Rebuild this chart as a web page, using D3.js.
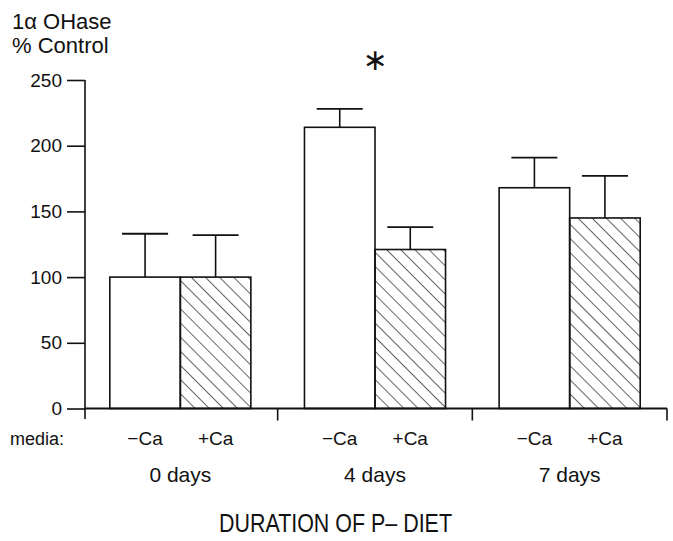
<!DOCTYPE html>
<html>
<head>
<meta charset="utf-8">
<script src="https://cdn.jsdelivr.net/npm/d3@7"></script>
<style>
  body { margin: 0; background: #fff; }
  text { font-family: "Liberation Sans", Arial, sans-serif; fill: #111; }
</style>
</head>
<body>
<div id="chart"></div>
<script>
// data
const days = ["0 days", "4 days", "7 days"];
const media = ["\u2212Ca", "+Ca"];
const means = [[100, 100], [214, 121], [168, 145]];
const errTops = [[133, 132], [228, 138], [191, 177]];
const yTicks = [0, 50, 100, 150, 200, 250];
const starGroup = "4 days";

const width = 673, height = 541;

const svg = d3.select("#chart").append("svg")
    .attr("width", width)
    .attr("height", height);

// hatch pattern for +Ca bars (lines running top-left to bottom-right)
let defs = svg.append("defs");
defs.append("pattern")
    .attr("id", "hatch")
    .attr("patternUnits", "userSpaceOnUse")
    .attr("width", 10)
    .attr("height", 10)
    .attr("patternTransform", "rotate(-45)")
    .append("line")
    .attr("x1", 0).attr("y1", 0)
    .attr("x2", 0).attr("y2", 10)
    .attr("stroke", "#111")
    .attr("stroke-width", 1.3);

// scales
const x0 = d3.scaleBand()
    .domain(days)
    .range([83, 667]);

const x1 = d3.scaleBand()
    .domain(media)
    .range([0, x0.bandwidth()])
    .paddingOuter(0.38);

const y = d3.scaleLinear()
    .domain([0, 250])
    .range([408.5, 80]);

// y axis
const yAxis = svg.append("g")
    .attr("transform", "translate(85,0)")
    .call(d3.axisLeft(y).tickValues(yTicks).tickSize(18).tickPadding(5));
yAxis.select(".domain").remove();
yAxis.selectAll(".tick line").attr("stroke", "#111").attr("stroke-width", 1.6);
yAxis.selectAll(".tick text")
    .style("font-size", "19px")
    .attr("font-family", "Liberation Sans, Arial, sans-serif")
    .attr("fill", "#111");
yAxis.append("line")
    .attr("x1", 0).attr("x2", 0)
    .attr("y1", y(250)).attr("y2", 419)
    .attr("stroke", "#111").attr("stroke-width", 1.6);

// bars
let groups = svg.selectAll(".grp")
    .data(days)
    .enter()
    .append("g")
    .attr("class", "grp")
    .attr("transform", d => "translate(" + x0(d) + ",0)");

groups.each(function(d, i) {
    let g = d3.select(this);
    media.forEach((m, j) => {
        let bx = x1(m);
        let cx = bx + x1.bandwidth() / 2;
        // error bar (upper only)
        g.append("line")
            .attr("x1", cx).attr("x2", cx)
            .attr("y1", y(means[i][j])).attr("y2", y(errTops[i][j]))
            .attr("stroke", "#111").attr("stroke-width", 1.6);
        g.append("line")
            .attr("x1", cx - 23).attr("x2", cx + 23)
            .attr("y1", y(errTops[i][j])).attr("y2", y(errTops[i][j]))
            .attr("stroke", "#111").attr("stroke-width", 1.8);
        g.append("rect")
            .attr("x", bx)
            .attr("y", y(means[i][j]))
            .attr("width", x1.bandwidth())
            .attr("height", y(0) - y(means[i][j]))
            .attr("fill", j === 0 ? "#fff" : "url(#hatch)")
            .attr("stroke", "#111")
            .attr("stroke-width", 1.6);
    });
});

// x axis
svg.append("line")
    .attr("x1", 85).attr("x2", 667)
    .attr("y1", y(0)).attr("y2", y(0))
    .attr("stroke", "#111").attr("stroke-width", 2);
svg.selectAll(".xtick")
    .data(days.slice(1).map(d => x0(d)).concat([x0.range()[1]]))
    .enter()
    .append("line")
    .attr("x1", d => d).attr("x2", d => d)
    .attr("y1", y(0)).attr("y2", y(0) + 12)
    .attr("stroke", "#111").attr("stroke-width", 1.6);

// media labels
svg.append("text")
    .attr("x", 10).attr("y", 445)
    .style("font-size", "18px")
    .text("media:");
groups.selectAll(".mlab")
    .data(media)
    .enter()
    .append("text")
    .attr("x", d => x1(d) + x1.bandwidth() / 2)
    .attr("y", 445)
    .attr("text-anchor", "middle")
    .style("font-size", "19px")
    .text(d => d);

groups.append("text")
    .attr("x", x0.bandwidth() / 2)
    .attr("y", 482)
    .attr("text-anchor", "middle")
    .style("font-size", "21px")
    .text(d => d);

// significance star
svg.append("text")
    .attr("x", x0(starGroup) + x0.bandwidth() / 2)
    .attr("y", 70)
    .attr("text-anchor", "middle")
    .style("font-family", "DejaVu Sans")
    .style("font-size", "30px")
    .text("\u2217");

// axis titles
svg.append("text")
    .attr("x", 12).attr("y", 29)
    .style("font-size", "22px")
    .text("1\u03b1 OHase");
svg.append("text")
    .attr("x", 12).attr("y", 53)
    .style("font-size", "22px")
    .text("% Control");

svg.append("text")
    .attr("x", 219).attr("y", 532)
    .attr("textLength", 233)
    .attr("lengthAdjust", "spacingAndGlyphs")
    .style("font-size", "26px")
    .text("DURATION OF P\u2013 DIET");
</script>
</body>
</html>
